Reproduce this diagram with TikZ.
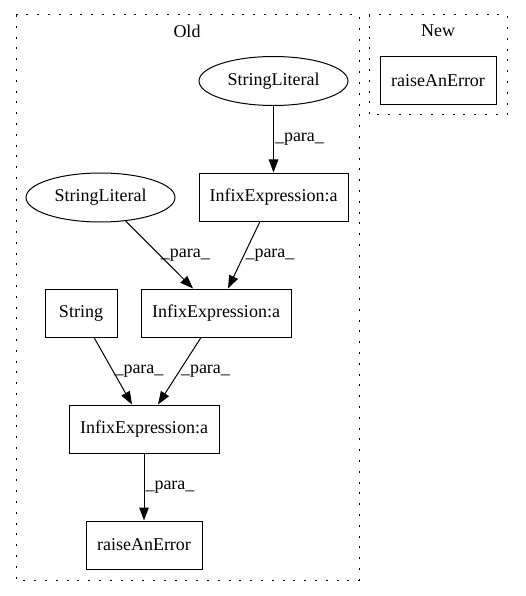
\documentclass[tikz,border=0pt]{standalone}
\usepackage{fontspec}
\setmainfont{Liberation Serif}
\usetikzlibrary{arrows.meta,shapes.geometric}
\begin{document}
\begin{tikzpicture}[x=1pt, y=-1pt, line width=1pt,
    font=\fontsize{18}{21}\selectfont,
    box/.style={draw, rectangle, minimum height=48pt, inner sep=0pt},
    oval/.style={draw, ellipse, minimum width=149pt, minimum height=49pt, inner sep=0pt},
    cluster/.style={draw, dash pattern=on 2pt off 8.8pt},
    para/.style={-{Triangle[length=13pt,width=9.5pt]}},
    lbl/.style={midway, anchor=west, inner sep=1pt}]
      \useasboundingbox (0, 0) rectangle (525, 596);
      % clusters
      \draw[cluster] (16, 15) rectangle (359, 580);
      \node (Old) at (187, 31) {Old};
      \draw[cluster] (369, 15) rectangle (507, 115);
      \node (New) at (438, 31) {New};
      % old nodes
      \node[oval] (SL_top) at (273.5, 81) {StringLiteral};
      \node[box, minimum width=149pt] (IE_top) at (273.5, 197) {InfixExpression:a};
      \node[oval] (SL_left) at (100.5, 197.5) {StringLiteral};
      \node[box, minimum width=72pt] (Str) at (81, 313) {String};
      \node[box, minimum width=150pt] (IE_mid) at (216, 313) {InfixExpression:a};
      \node[box, minimum width=150pt] (IE_bot) at (144, 429) {InfixExpression:a};
      \node[box, minimum width=116pt] (Err_old) at (144, 545) {raiseAnError};
      % new nodes
      \node[box, minimum width=116pt] (Err_new) at (438, 81) {raiseAnError};
      % edges
      \draw[para] (SL_top) -- node[lbl] {\_para\_} (IE_top);
      \draw[para] (SL_left.-43) -- node[lbl] {\_para\_} ([xshift=-23pt]IE_mid.north);
      \draw[para] ([xshift=-13.5pt]IE_top.south) -- node[lbl] {\_para\_} ([xshift=12pt]IE_mid.north);
      \draw[para] ([xshift=13pt]Str.south) -- node[lbl] {\_para\_} ([xshift=-12pt]IE_bot.north);
      \draw[para] ([xshift=-15pt]IE_mid.south) -- node[lbl] {\_para\_} ([xshift=14pt]IE_bot.north);
      \draw[para] (IE_bot) -- node[lbl] {\_para\_} (Err_old);
    \end{tikzpicture}
\end{document}
